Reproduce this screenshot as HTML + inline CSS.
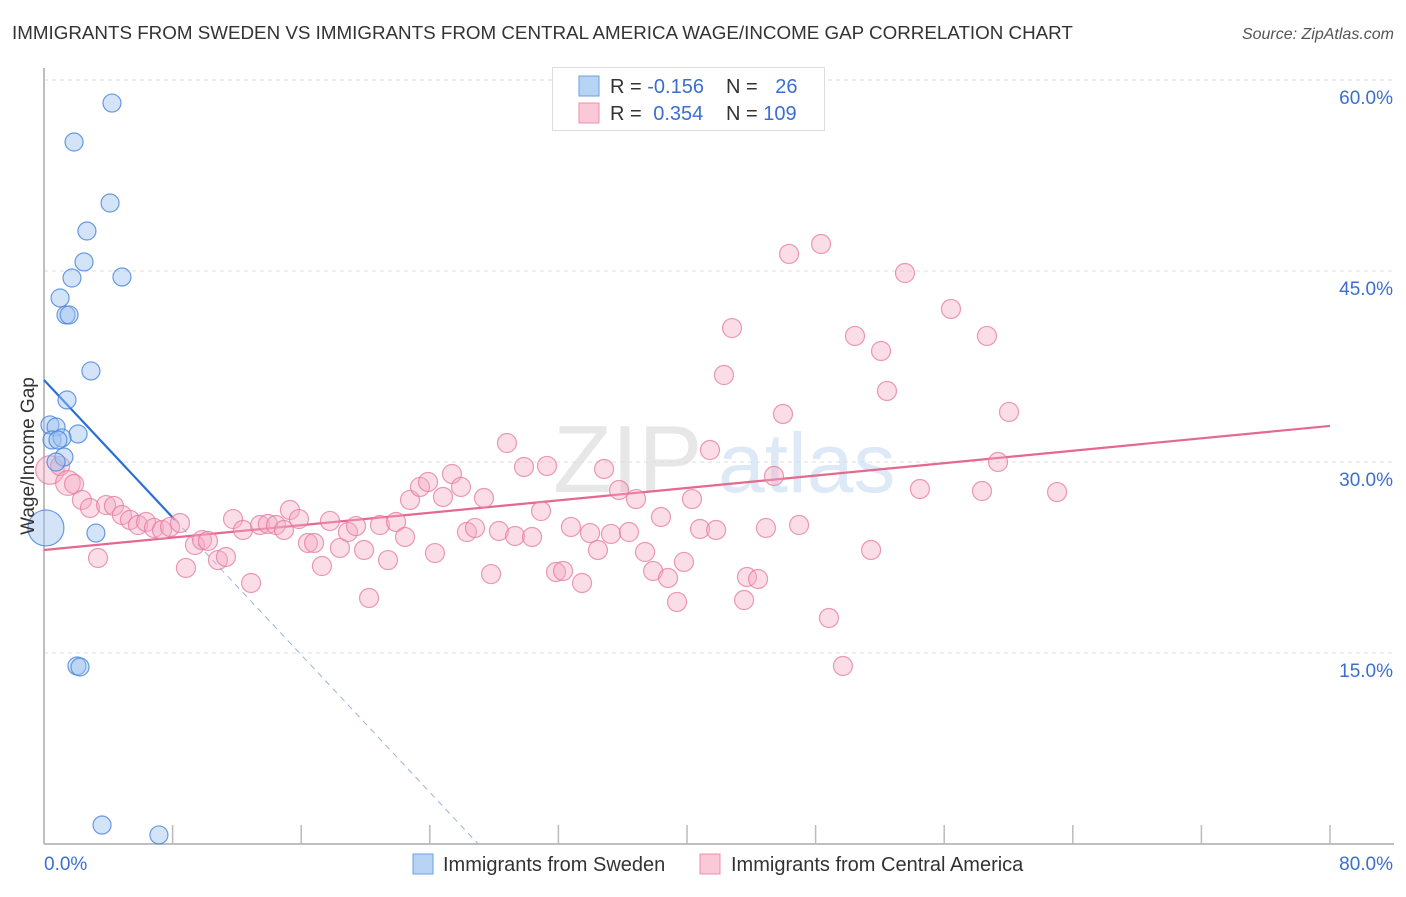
<!DOCTYPE html>
<html><head><meta charset="utf-8"><style>
body{margin:0;background:#fff;font-family:"Liberation Sans",sans-serif;}
svg text{font-family:"Liberation Sans",sans-serif;}
</style></head><body>
<svg id="chart" width="1406" height="892" xmlns="http://www.w3.org/2000/svg">
<text x="12" y="39" font-size="18.8" fill="#333">IMMIGRANTS FROM SWEDEN VS IMMIGRANTS FROM CENTRAL AMERICA WAGE/INCOME GAP CORRELATION CHART</text>
<text x="1394" y="39" font-size="16" fill="#555" text-anchor="end" font-style="italic">Source: ZipAtlas.com</text>
<text x="553" y="492" font-size="96" fill="#ddd" font-family="Liberation Serif" opacity="0.7">ZIP</text>
<text x="718" y="492" font-size="84" fill="#c8dcf2" opacity="0.6">atlas</text>
<g id="grid"></g>
<g id="axes"></g>
<g id="lines"></g>
<g id="points"></g>
<text transform="translate(34,456) rotate(-90)" font-size="19" fill="#333" text-anchor="middle">Wage/Income Gap</text>
<g>
<rect x="552.5" y="67.5" width="272" height="63" fill="#fff" stroke="#ddd"/>
<rect x="579" y="76" width="20" height="20" fill="#b8d4f5" stroke="#6a9fe0"/>
<rect x="579" y="103" width="20" height="20" fill="#fbc8d8" stroke="#ec8fae"/>
<text x="610" y="93" font-size="20" fill="#333">R = <tspan fill="#3a6fd0">-0.156</tspan></text>
<text x="726" y="93" font-size="20" fill="#333">N = <tspan fill="#3a6fd0" dx="12">26</tspan></text>
<text x="610" y="120" font-size="20" fill="#333">R = <tspan fill="#3a6fd0" dx="6">0.354</tspan></text>
<text x="726" y="120" font-size="20" fill="#333">N = <tspan fill="#3a6fd0">109</tspan></text>
</g>
<g>
<rect x="413" y="854" width="20" height="20" fill="#b8d4f5" stroke="#6a9fe0"/>
<text x="443" y="871" font-size="20" fill="#333">Immigrants from Sweden</text>
<rect x="700" y="854" width="20" height="20" fill="#fbc8d8" stroke="#ec8fae"/>
<text x="731" y="871" font-size="20" fill="#333">Immigrants from Central America</text>
</g>
</svg>
<script>
const yTicks=[15,30,45,60];
const yTickLabels=["15.0%","30.0%","45.0%","60.0%"];
const xTicks=[0,8,16,24,32,40,48,56,64,72,80];
const xEndLabels=["0.0%","80.0%"];
const swedenX=[4.23,1.87,4.11,2.67,2.49,4.85,1.74,1.0,1.37,1.56,2.92,1.43,0.37,0.75,2.12,0.5,1.12,0.87,1.24,0.75,0.12,3.23,2.05,2.24,3.61,7.15];
const swedenY=[58.19,55.13,50.34,48.14,45.71,44.53,44.45,42.88,41.55,41.55,37.15,34.87,32.91,32.75,32.2,31.73,31.89,31.73,30.39,30.0,24.82,24.42,13.98,13.9,1.49,0.71];
const swedenSize=[1,1,1,1,1,1,1,1,1,1,1,1,1,1,1,1,1,1,1,1,2,1,1,1,1,1];
const camX=[0.37,1.0,1.49,1.87,2.36,2.86,3.36,3.86,4.35,4.85,5.35,5.85,6.35,6.84,7.34,7.84,8.46,8.83,9.39,9.83,10.2,10.82,11.32,11.76,12.38,12.88,13.44,13.93,14.43,14.93,15.3,15.86,16.42,16.8,17.29,17.79,18.41,18.91,19.41,19.91,20.22,20.9,21.4,21.9,22.46,22.77,23.39,23.89,24.32,24.82,25.38,25.94,26.31,26.81,27.37,27.81,28.3,28.8,29.3,29.86,30.36,30.92,31.29,31.85,32.29,32.78,33.47,33.97,34.46,34.84,35.27,35.77,36.39,36.83,37.39,37.89,38.38,38.82,39.38,39.81,40.31,40.81,41.43,41.81,42.3,42.8,43.55,43.73,44.42,44.91,45.41,45.97,46.35,46.97,48.34,48.83,49.7,50.45,51.45,52.07,52.44,53.56,54.49,56.42,58.35,58.66,59.35,60.03,63.02];
const camY=[29.37,29.69,28.35,28.27,27.02,26.39,22.46,26.62,26.55,25.84,25.45,25.05,25.29,24.82,24.66,24.9,25.21,21.68,23.48,23.87,23.8,22.3,22.54,25.52,24.66,20.5,25.05,25.13,25.05,24.66,26.23,25.52,23.64,23.64,21.83,25.37,23.25,24.5,24.97,23.09,19.32,25.05,22.3,25.29,24.11,27.02,28.04,28.43,22.85,27.25,29.06,28.04,24.5,24.82,27.17,21.2,24.58,31.49,24.19,29.61,24.11,26.15,29.69,21.36,21.44,24.9,20.5,24.42,23.09,29.45,24.35,27.8,24.5,27.09,22.93,21.44,25.68,20.89,19.01,22.15,27.09,24.74,30.94,24.66,36.83,40.52,19.16,20.97,20.81,24.82,28.9,33.77,46.34,25.05,47.12,17.75,13.98,39.9,23.09,38.72,35.58,44.84,27.88,42.02,27.72,39.9,30.0,33.93,27.64];
const camSize=[1.5,1,1.3,1,1,1,1,1,1,1,1,1,1,1,1,1,1,1,1,1,1,1,1,1,1,1,1,1,1,1,1,1,1,1,1,1,1,1,1,1,1,1,1,1,1,1,1,1,1,1,1,1,1,1,1,1,1,1,1,1,1,1,1,1,1,1,1,1,1,1,1,1,1,1,1,1,1,1,1,1,1,1,1,1,1,1,1,1,1,1,1,1,1,1,1,1,1,1,1,1,1,1,1,1,1,1,1,1,1];
const swedenTrend=[36.44,-1.349];
const swedenSolidEnd=8.15;
const swedenDashEnd=27.0;
const camTrend=[23.09,0.1218];

const X0=44,X1=1330,Y0=844,Y1=80;
function sx(v){return X0+(v-0)/80*(X1-X0);}
function sy(v){return Y0-(v/60)*(Y0-Y1);}
const NS="http://www.w3.org/2000/svg";
function mk(tag,attrs,parent,text){const e=document.createElementNS(NS,tag);for(const k in attrs)e.setAttribute(k,attrs[k]);if(text!==undefined)e.textContent=text;parent.appendChild(e);return e;}
const grid=document.getElementById('grid'),axes=document.getElementById('axes'),lines=document.getElementById('lines'),pts=document.getElementById('points');
yTicks.forEach((t,i)=>{
  const l=mk('line',{x1:X0,x2:1394,y1:sy(t),y2:sy(t),stroke:'#ddd','stroke-dasharray':'4,4'},grid);
  
  
  const tx=mk('text',{x:1393,y:sy(t)+24,'font-size':19,fill:'#3a6fd0','text-anchor':'end'},axes,yTickLabels[i]);
  
  
});
{const l=mk('line',{x1:X0,x2:X0,y1:68,y2:Y0,stroke:'#aaa','stroke-width':1.5},axes);


const b=mk('line',{x1:X0,x2:1394,y1:Y0,y2:Y0,stroke:'#aaa','stroke-width':1.5},axes);

}
xTicks.forEach(t=>{if(t===0)return;
  const l=mk('line',{x1:sx(t),x2:sx(t),y1:Y0-19,y2:Y0,stroke:'#bbb','stroke-width':1.5},axes);
  
  
});
{const a=mk('text',{x:44,y:870,'font-size':19,fill:'#3a6fd0'},axes,xEndLabels[0]);


const b=mk('text',{x:1393,y:870,'font-size':19,fill:'#3a6fd0','text-anchor':'end'},axes,xEndLabels[1]);

}
function circ(x,y,r,fill,stroke,name){const c=mk('circle',{cx:sx(x),cy:sy(y),r:r,fill:fill,stroke:stroke,'stroke-width':1.2},pts);

}
camX.forEach((x,i)=>circ(x,camY[i],9.5*camSize[i],'rgba(246,170,195,0.4)','rgba(230,120,160,0.75)','central-america-point'));
swedenX.forEach((x,i)=>circ(x,swedenY[i],9*swedenSize[i],'rgba(160,195,240,0.45)','rgba(70,130,220,0.8)','sweden-point'));
function tl(a,x){return a[0]+a[1]*x;}
{const l=mk('line',{x1:sx(0),y1:sy(tl(swedenTrend,0)),x2:sx(swedenSolidEnd),y2:sy(tl(swedenTrend,swedenSolidEnd)),stroke:'#2a6fd6','stroke-width':2.2},lines);


const d=mk('line',{x1:sx(swedenSolidEnd),y1:sy(tl(swedenTrend,swedenSolidEnd)),x2:sx(swedenDashEnd),y2:sy(tl(swedenTrend,swedenDashEnd)),stroke:'#9ab4d8','stroke-width':1,'stroke-dasharray':'6,5'},lines);


const p=mk('line',{x1:sx(0),y1:sy(tl(camTrend,0)),x2:sx(80),y2:sy(tl(camTrend,80)),stroke:'#e5688f','stroke-width':2.2},lines);

}
</script>
</body></html>
